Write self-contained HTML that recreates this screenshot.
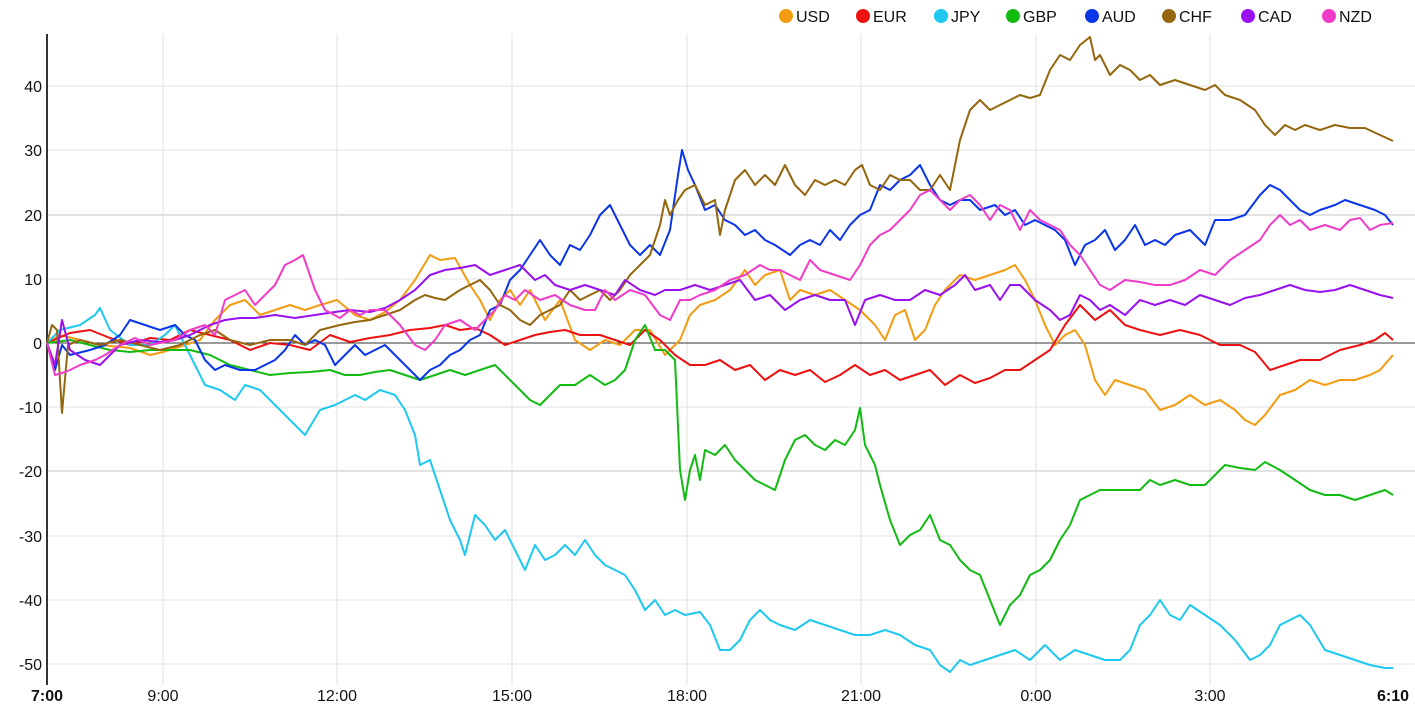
<!DOCTYPE html>
<html><head><meta charset="utf-8"><style>
html,body{margin:0;padding:0;background:#fff;}
svg{display:block;font-family:"Liberation Sans",Arial,sans-serif;}
</style></head><body>
<svg width="1415" height="712" viewBox="0 0 1415 712">
<g stroke="#e2e2e2" stroke-width="1">
<line x1="48" y1="86" x2="1415" y2="86"/><line x1="48" y1="150" x2="1415" y2="150"/><line x1="48" y1="215" x2="1415" y2="215" stroke-width="2"/><line x1="48" y1="279" x2="1415" y2="279"/><line x1="48" y1="407" x2="1415" y2="407"/><line x1="48" y1="471" x2="1415" y2="471" stroke-width="2"/><line x1="48" y1="536" x2="1415" y2="536"/><line x1="48" y1="600" x2="1415" y2="600"/><line x1="48" y1="664" x2="1415" y2="664"/>
<line x1="163" y1="34" x2="163" y2="685"/><line x1="337" y1="34" x2="337" y2="685"/><line x1="512" y1="34" x2="512" y2="685"/><line x1="687" y1="34" x2="687" y2="685"/><line x1="861" y1="34" x2="861" y2="685"/><line x1="1036" y1="34" x2="1036" y2="685"/><line x1="1210" y1="34" x2="1210" y2="685"/>
</g>
<line x1="48" y1="343" x2="1415" y2="343" stroke="#333" stroke-width="1"/>
<line x1="47" y1="34" x2="47" y2="685" stroke="#333" stroke-width="2"/>
<g font-size="16" fill="#111" text-anchor="end">
<text x="42" y="92">40</text><text x="42" y="156">30</text><text x="42" y="221">20</text><text x="42" y="285">10</text><text x="42" y="349">0</text><text x="42" y="413">-10</text><text x="42" y="477">-20</text><text x="42" y="542">-30</text><text x="42" y="606">-40</text><text x="42" y="670">-50</text>
</g>
<g font-size="16" fill="#111" text-anchor="middle">
<text x="47" y="701" font-weight="bold">7:00</text><text x="163" y="701">9:00</text><text x="337" y="701">12:00</text><text x="512" y="701">15:00</text><text x="687" y="701">18:00</text><text x="861" y="701">21:00</text><text x="1036" y="701">0:00</text><text x="1210" y="701">3:00</text><text x="1393" y="701" font-weight="bold">6:10</text>
</g>
<g fill="none" stroke-width="2" stroke-linejoin="round">
<polyline stroke="#f39c12" points="47,343 60,335 80,340 100,345 130,348 150,355 163,352 185,345 200,340 215,320 230,305 245,300 260,315 275,310 290,305 305,310 320,305 337,300 355,315 370,320 385,312 400,300 415,280 430,255 440,260 455,258 470,285 480,300 490,320 500,300 510,290 520,305 530,290 545,320 560,300 575,340 590,350 605,340 620,345 635,330 650,330 665,355 680,340 690,315 700,305 715,300 730,290 745,270 755,285 765,275 780,270 790,300 800,290 815,295 830,290 845,300 860,310 875,325 885,340 895,315 905,310 915,340 925,330 935,305 945,290 960,275 975,280 990,275 1005,270 1015,265 1025,280 1035,300 1045,325 1055,345 1065,335 1075,330 1085,345 1095,380 1105,395 1115,380 1130,385 1145,390 1160,410 1175,405 1190,395 1205,405 1220,400 1235,410 1245,420 1255,425 1265,415 1280,395 1295,390 1310,380 1325,385 1340,380 1355,380 1370,375 1380,370 1393,355"/>
<polyline stroke="#ee1111" points="47,343 70,333 90,330 110,338 130,345 150,338 170,340 190,330 210,335 230,340 250,350 270,343 290,345 310,350 330,335 350,342 370,338 390,335 410,330 430,328 445,325 460,330 475,328 490,335 505,345 520,340 535,335 550,332 565,330 580,335 600,335 615,340 630,345 645,330 660,340 675,355 690,365 705,365 720,360 735,370 750,365 765,380 780,370 795,375 810,370 825,382 840,375 855,365 870,375 885,370 900,380 915,375 930,370 945,385 960,375 975,383 990,378 1005,370 1020,370 1035,360 1050,350 1065,325 1080,305 1095,320 1110,310 1125,325 1140,330 1160,335 1180,330 1200,335 1220,345 1240,345 1255,352 1270,370 1285,365 1300,360 1320,360 1340,350 1360,345 1375,340 1385,333 1393,340"/>
<polyline stroke="#1ec8f0" points="47,343 60,330 80,325 95,315 100,308 110,330 130,345 150,345 165,335 175,325 185,345 205,385 220,390 235,400 245,385 260,390 275,405 290,420 305,435 320,410 335,405 345,400 355,395 365,400 380,390 395,395 405,410 415,435 420,465 430,460 440,490 450,520 460,540 465,555 475,515 485,525 495,540 505,530 515,550 525,570 535,545 545,560 555,555 565,545 575,555 585,540 595,555 605,565 615,570 625,575 635,590 645,610 655,600 665,615 675,610 685,615 700,612 710,625 720,650 730,650 740,640 750,620 760,610 770,620 780,625 795,630 810,620 825,625 840,630 855,635 870,635 885,630 900,635 915,645 930,650 940,665 950,672 960,660 970,665 985,660 1000,655 1015,650 1030,660 1045,645 1060,660 1075,650 1090,655 1105,660 1120,660 1130,650 1140,625 1150,615 1160,600 1170,615 1180,620 1190,605 1205,615 1220,625 1235,640 1250,660 1260,655 1270,645 1280,625 1290,620 1300,615 1310,625 1325,650 1340,655 1355,660 1370,665 1385,668 1393,668"/>
<polyline stroke="#11bb11" points="47,343 70,340 90,345 110,350 130,352 150,350 170,350 190,350 210,355 230,365 250,370 270,375 290,373 310,372 330,370 345,375 360,375 375,372 390,370 405,375 420,380 435,375 450,370 465,375 480,370 495,365 510,380 520,390 530,400 540,405 550,395 560,385 575,385 590,375 605,385 615,380 625,370 635,340 645,325 655,350 665,350 675,360 680,470 685,500 690,470 695,455 700,480 705,450 715,455 725,445 735,460 745,470 755,480 765,485 775,490 785,460 795,440 805,435 815,445 825,450 835,440 845,445 855,430 860,408 865,445 875,465 880,485 890,520 900,545 910,535 920,530 930,515 940,540 950,545 960,560 970,570 980,575 990,600 1000,625 1010,605 1020,595 1030,575 1040,570 1050,560 1060,540 1070,525 1080,500 1090,495 1100,490 1110,490 1120,490 1140,490 1150,480 1160,485 1175,480 1190,485 1205,485 1215,475 1225,465 1240,468 1255,470 1265,462 1280,470 1295,480 1310,490 1325,495 1340,495 1355,500 1370,495 1385,490 1393,495"/>
<polyline stroke="#0a35e8" points="47,343 55,370 62,345 70,355 90,350 105,345 120,335 130,320 145,325 160,330 175,325 185,335 195,340 205,360 215,370 225,365 240,370 255,370 265,365 275,360 285,350 295,335 305,345 315,340 325,345 335,365 345,355 355,345 365,355 375,350 385,345 395,355 405,365 420,380 430,370 440,365 450,355 460,350 470,340 480,335 490,310 500,305 510,280 520,270 530,255 540,240 550,255 560,265 570,245 580,250 590,235 600,215 610,205 620,225 630,245 640,255 650,245 660,255 670,230 678,175 682,150 688,170 695,185 705,210 715,205 725,220 735,225 745,235 755,230 765,240 775,245 790,255 800,245 810,240 820,245 830,230 840,240 850,225 860,215 870,210 880,185 890,190 900,180 910,175 920,165 930,185 940,200 950,205 960,200 970,200 980,210 995,205 1005,215 1015,210 1025,225 1035,220 1045,225 1055,230 1065,240 1075,265 1085,245 1095,240 1105,230 1115,250 1125,240 1135,225 1145,245 1155,240 1165,245 1175,235 1190,230 1205,245 1215,220 1230,220 1245,215 1260,195 1270,185 1280,190 1290,200 1300,210 1310,215 1320,210 1335,205 1345,200 1360,205 1375,210 1385,215 1393,225"/>
<polyline stroke="#94660d" points="47,343 52,325 57,330 62,413 68,345 80,340 100,345 120,340 140,345 160,350 180,345 200,335 215,330 230,340 250,345 270,340 290,340 305,345 320,330 340,325 355,322 370,320 385,315 400,310 415,300 425,295 435,298 445,300 460,290 470,285 480,280 490,290 500,305 510,310 520,320 530,325 540,315 550,310 560,305 570,290 580,300 590,295 600,290 610,300 620,290 630,275 640,265 650,255 660,225 665,200 670,215 678,200 685,190 695,185 705,205 715,200 720,235 725,210 735,180 745,170 755,185 765,175 775,185 785,165 795,185 805,195 815,180 825,185 835,180 845,185 855,170 862,165 870,185 880,190 890,175 900,180 910,180 920,190 930,190 940,175 950,190 960,140 970,110 980,100 990,110 1000,105 1010,100 1020,95 1030,98 1040,95 1050,70 1060,55 1070,60 1080,45 1090,37 1095,60 1100,55 1110,75 1120,65 1130,70 1140,80 1150,75 1160,85 1175,80 1190,85 1205,90 1215,85 1225,95 1240,100 1255,110 1265,125 1275,135 1285,125 1295,130 1305,125 1320,130 1335,125 1350,128 1365,128 1380,135 1393,141"/>
<polyline stroke="#9911ee" points="47,343 55,365 62,320 70,350 85,360 100,365 120,345 140,340 160,342 175,340 190,335 210,325 225,320 240,318 255,318 275,315 295,318 315,315 335,312 350,310 370,312 385,308 400,300 415,290 430,275 445,270 460,268 475,265 490,275 505,270 520,265 535,280 545,275 555,285 570,290 585,285 600,290 615,295 625,280 640,290 655,295 665,290 680,290 695,285 710,290 725,285 740,280 755,300 770,295 785,310 800,300 815,295 830,300 845,300 855,325 865,300 880,295 895,300 910,300 925,290 940,295 955,285 965,275 975,290 990,285 1000,300 1010,285 1020,285 1035,300 1050,310 1060,320 1070,315 1080,295 1090,300 1100,310 1110,305 1125,315 1140,300 1155,305 1170,300 1185,305 1200,295 1215,300 1230,305 1245,298 1260,295 1275,290 1290,285 1305,290 1320,292 1335,290 1350,285 1365,290 1380,295 1393,298"/>
<polyline stroke="#f03cc8" points="47,343 55,375 62,373 70,370 80,365 95,360 105,355 120,345 135,338 150,345 160,343 175,340 190,330 205,325 215,335 225,300 235,295 245,290 255,305 265,295 275,285 285,265 295,260 303,255 315,290 325,310 340,318 350,310 360,315 370,310 385,310 400,325 415,345 425,350 435,340 445,325 460,320 475,330 485,320 495,310 505,295 515,300 525,290 540,300 555,295 570,305 585,310 595,310 605,290 615,300 630,290 645,295 660,315 670,320 680,300 690,300 700,295 715,290 730,280 745,275 760,265 770,270 780,270 790,275 800,280 810,260 820,270 835,275 850,280 860,265 870,245 880,235 890,230 900,220 910,210 920,195 930,190 940,200 950,210 960,200 970,195 980,205 990,220 1000,205 1010,210 1020,230 1030,210 1040,220 1050,225 1060,230 1070,245 1080,255 1090,270 1100,285 1110,290 1125,280 1140,282 1155,285 1170,285 1185,280 1200,270 1215,275 1230,260 1245,250 1260,240 1270,225 1280,215 1290,225 1300,220 1310,230 1325,225 1340,230 1350,220 1360,218 1370,230 1380,225 1393,223"/>
</g>
<g font-size="16" fill="#111">
<circle cx="786" cy="16" r="7" fill="#f39c12"/><text x="796" y="22">USD</text>
<circle cx="863" cy="16" r="7" fill="#ee1111"/><text x="873" y="22">EUR</text>
<circle cx="941" cy="16" r="7" fill="#1ec8f0"/><text x="951" y="22">JPY</text>
<circle cx="1013" cy="16" r="7" fill="#11bb11"/><text x="1023" y="22">GBP</text>
<circle cx="1092" cy="16" r="7" fill="#0a35e8"/><text x="1102" y="22">AUD</text>
<circle cx="1169" cy="16" r="7" fill="#94660d"/><text x="1179" y="22">CHF</text>
<circle cx="1248" cy="16" r="7" fill="#9911ee"/><text x="1258" y="22">CAD</text>
<circle cx="1329" cy="16" r="7" fill="#f03cc8"/><text x="1339" y="22">NZD</text>
</g>
</svg>
</body></html>
